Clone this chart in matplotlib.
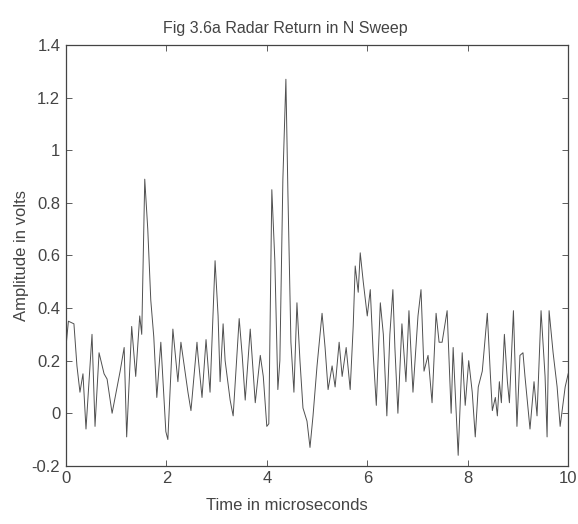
# Fig 3.6a - retour radar sur un balayage N
# Courbe reconstruite a la main a partir des pics et des creux

import matplotlib.pyplot as plt

# temps en microsecondes
temps = [0.00, 0.05, 0.16, 0.22, 0.28, 0.34, 0.40, 0.46, 0.52, 0.58, 0.66, 0.76, 0.82, 0.92,
         1.00, 1.08, 1.16, 1.21, 1.31, 1.39, 1.47, 1.51, 1.57, 1.63, 1.69, 1.75, 1.81, 1.89,
         1.99, 2.03, 2.13, 2.23, 2.29, 2.43, 2.49, 2.61, 2.63, 2.71, 2.79, 2.87, 2.97, 3.03,
         3.07, 3.13, 3.17, 3.27, 3.33, 3.45, 3.51, 3.57, 3.67, 3.73, 3.77, 3.87, 3.93, 4.00,
         4.04, 4.10, 4.16, 4.22, 4.26, 4.32, 4.38, 4.42, 4.48, 4.54, 4.60, 4.66, 4.72, 4.80,
         4.86, 4.92, 5.00, 5.10, 5.16, 5.22, 5.30, 5.36, 5.44, 5.50, 5.58, 5.66, 5.72, 5.76,
         5.82, 5.86, 5.92, 6.00, 6.06, 6.12, 6.18, 6.26, 6.32, 6.39, 6.45, 6.51, 6.55, 6.61,
         6.69, 6.77, 6.83, 6.91, 7.01, 7.07, 7.13, 7.21, 7.29, 7.37, 7.43, 7.49, 7.59, 7.67,
         7.71, 7.81, 7.89, 7.95, 8.02, 8.09, 8.15, 8.21, 8.29, 8.39, 8.45, 8.49, 8.55, 8.59,
         8.63, 8.67, 8.73, 8.79, 8.83, 8.91, 8.98, 9.04, 9.10, 9.14, 9.24, 9.32, 9.38, 9.46,
         9.54, 9.58, 9.62, 9.70, 9.78, 9.84, 9.94, 10.00]

# amplitude en volts
amplitude = [0.25, 0.35, 0.34, 0.18, 0.08, 0.15, -0.06, 0.12, 0.30, -0.05, 0.23, 0.15, 0.13, 0.00,
             0.08, 0.16, 0.25, -0.09, 0.33, 0.14, 0.37, 0.30, 0.89, 0.70, 0.43, 0.29, 0.06, 0.27,
             -0.07, -0.10, 0.32, 0.12, 0.27, 0.08, 0.01, 0.27, 0.22, 0.06, 0.28, 0.08, 0.58, 0.37,
             0.12, 0.34, 0.20, 0.05, -0.01, 0.36, 0.22, 0.05, 0.32, 0.15, 0.04, 0.22, 0.14, -0.05,
             -0.04, 0.85, 0.58, 0.09, 0.20, 0.89, 1.27, 0.84, 0.27, 0.08, 0.42, 0.20, 0.02, -0.03,
             -0.13, -0.01, 0.18, 0.38, 0.25, 0.09, 0.18, 0.10, 0.27, 0.14, 0.25, 0.09, 0.33, 0.56,
             0.46, 0.61, 0.50, 0.37, 0.47, 0.22, 0.03, 0.42, 0.30, -0.01, 0.30, 0.47, 0.25, 0.00,
             0.34, 0.12, 0.39, 0.08, 0.37, 0.47, 0.16, 0.22, 0.04, 0.38, 0.27, 0.27, 0.39, 0.00,
             0.25, -0.16, 0.23, 0.03, 0.20, 0.08, -0.09, 0.10, 0.16, 0.38, 0.15, 0.01, 0.06, -0.01,
             0.12, 0.04, 0.30, 0.12, 0.04, 0.39, -0.05, 0.22, 0.23, 0.14, -0.06, 0.12, -0.01, 0.39,
             0.14, -0.09, 0.39, 0.23, 0.10, -0.05, 0.10, 0.15]

xticks = [0, 2, 4, 6, 8, 10]
yticks = [-0.2, 0, 0.2, 0.4, 0.6, 0.8, 1.0, 1.2, 1.4]
ytick_labels = ["-0.2", "0", "0.2", "0.4", "0.6", "0.8", "1", "1.2", "1.4"]

plt.rcParams['font.family'] = ['Liberation Sans', 'DejaVu Sans']
gris = '#444444'

fig = plt.figure(figsize=(5.78, 5.24), dpi=100)
ax = fig.add_axes([0.114, 0.111, 0.869, 0.803])

ax.plot(temps, amplitude, color='#505050', linewidth=0.7)

ax.set_xlim(0, 10)
ax.set_ylim(-0.2, 1.4)
ax.set_xticks(xticks)
ax.set_yticks(yticks)
ax.set_yticklabels(ytick_labels)
ax.tick_params(direction='in', top=True, right=True, length=4, width=0.6,
               labelsize=12, colors=gris, pad=4)
for s in ax.spines.values():
    s.set_linewidth(0.9)
    s.set_color(gris)

# le titre et l'etiquette x sont decales vers la gauche sur l'original
ax.set_title("Fig 3.6a Radar Return in N Sweep", fontsize=11.5, color=gris, pad=9, x=0.436)
ax.set_xlabel("Time in microseconds", fontsize=12, color=gris)
ax.xaxis.set_label_coords(0.44, -0.077)
ax.set_ylabel("Amplitude in volts", fontsize=12, color=gris, labelpad=2)

plt.savefig("out.png", dpi=100)
